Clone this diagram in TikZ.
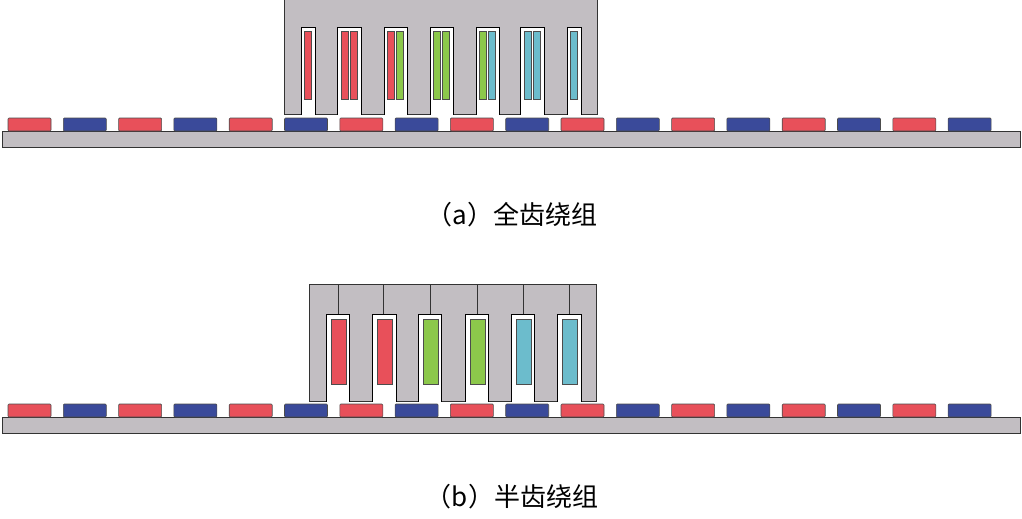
\documentclass[tikz,border=0pt]{standalone}
\usepackage{fontspec}
\newfontfamily\cjk{Noto Sans CJK SC}
\definecolor{mred}{HTML}{E8505A}
\definecolor{mblue}{HTML}{3A4A9A}
\definecolor{sgray}{HTML}{C2BEC2}
\definecolor{cgreen}{HTML}{8CC84B}
\definecolor{ccyan}{HTML}{6CBCCC}
\begin{document}
\begin{tikzpicture}[x=1pt,y=-1pt,
  iron/.style={fill=sgray,draw=black!80,line width=1pt},
  mag/.style={draw=black!70,line width=0.6pt,rounded corners=1pt},
  coil/.style={draw=black!70,line width=0.7pt},
  slot/.style={draw=black,line width=1pt},
  captxt/.style={font=\cjk\fontsize{26}{30}\selectfont}]
\useasboundingbox (0,0) rectangle (1022,519);
\foreach \dy in {0,286}{
  \draw[iron] (2,{131+\dy}) rectangle (1020,{147+\dy});
  \foreach \i in {0,...,17}{
    \pgfmathsetmacro{\xa}{8+55.3*\i}
    \pgfmathtruncatemacro{\odd}{mod(\i,2)}
    \ifnum\odd=0 \def\mc{mred}\else\def\mc{mblue}\fi
    \draw[mag,fill=\mc] (\xa,{118+\dy}) rectangle ({\xa+43},{131+\dy});
  }
}
\draw[iron] (284,0) rectangle (597,114);
\foreach \a/\b in {301/315,337/361,384/407,430/453,476/499,520/544,567/581}{
  \fill[white] (\a,28) rectangle (\b,116);
  \draw[slot] (\a,114.5) -- (\a,28) -- (\b,28) -- (\b,114.5);
}
\foreach \x/\c in {304/mred,341/mred,350/mred,387/mred,396/cgreen,433/cgreen,442/cgreen,479/cgreen,488/ccyan,524/ccyan,533/ccyan,570/ccyan}{
  \draw[coil,fill=\c] (\x,31) rectangle ({\x+7},99);
}
\node[captxt] (capa) at (512,215) {（a）全齿绕组};
\draw[iron] (309,284) rectangle (596,401);
\foreach \a/\b/\m/\c in {326/349/338/mred,372/396/383/mred,418/441/430/cgreen,465/488/477/cgreen,511/534/523/ccyan,557/581/569/ccyan}{
  \draw[black!80,line width=1pt] (\m,284) -- (\m,314);
  \fill[white] (\a,314) rectangle (\b,403);
  \draw[slot] (\a,401.5) -- (\a,314) -- (\b,314) -- (\b,401.5);
  \draw[coil,fill=\c] ({\a+5},319) rectangle ({\a+20},384);
}
\node[captxt] (capb) at (512,497) {（b）半齿绕组};
\end{tikzpicture}
\end{document}
